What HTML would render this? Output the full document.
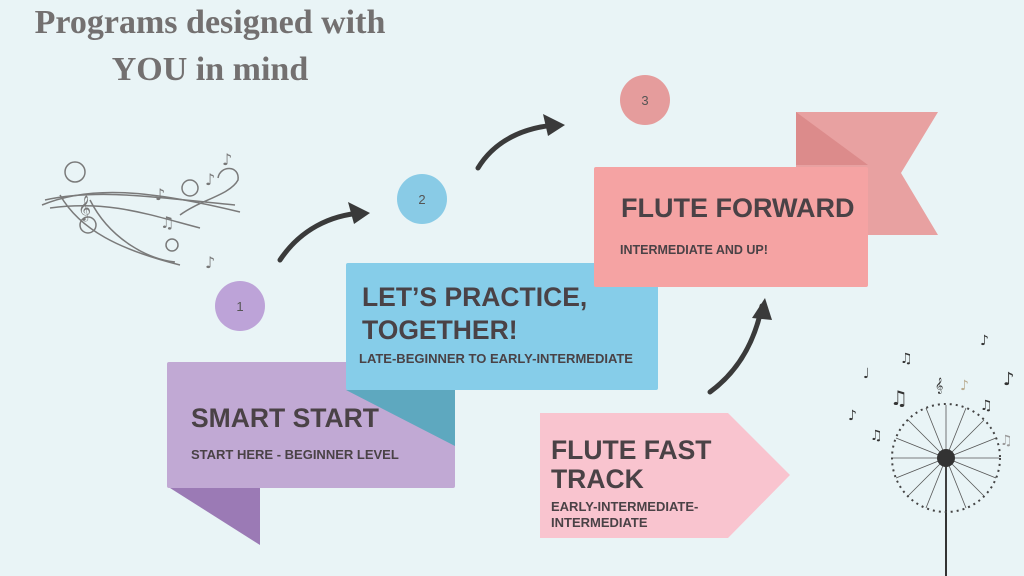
<!DOCTYPE html>
<html><head><meta charset="utf-8"><style>
body{margin:0;width:1024px;height:576px;overflow:hidden;background:#e9f4f6;}
svg{display:block}
.t{font-family:"Liberation Sans",sans-serif;font-weight:bold;fill:#4a4246}
</style></head><body>
<svg width="1024" height="576" viewBox="0 0 1024 576" xmlns="http://www.w3.org/2000/svg">
<rect width="1024" height="576" fill="#e9f4f6"/>
<text x="210" y="33" text-anchor="middle" font-family="Liberation Serif,serif" font-weight="bold" font-size="34" fill="#737070">Programs designed with</text>
<text x="210" y="80" text-anchor="middle" font-family="Liberation Serif,serif" font-weight="bold" font-size="34" fill="#737070">YOU in mind</text>

<!-- left music swirl -->
<g fill="none" stroke="#7a7a7a" stroke-width="1.5">
<path d="M42,205 C90,185 150,190 240,212"/>
<path d="M45,200 C100,188 160,198 235,205"/>
<path d="M50,208 C110,200 150,215 200,228"/>
<path d="M60,195 C80,230 120,250 180,265"/>
<path d="M90,200 C110,240 150,260 175,262"/>
<path d="M180,215 C200,200 230,195 238,180 C240,165 220,165 218,178"/>
<circle cx="75" cy="172" r="10"/><circle cx="190" cy="188" r="8"/><circle cx="172" cy="245" r="6"/><circle cx="88" cy="225" r="8"/>
</g>
<g font-family="DejaVu Sans,sans-serif" fill="#777" font-size="16">
<text x="155" y="200">♪</text><text x="205" y="185">♪</text><text x="222" y="165">♪</text><text x="205" y="268">♪</text><text x="78" y="215" font-size="22">𝄞</text><text x="160" y="228">♫</text>
</g>

<!-- dandelion -->
<g>
<line x1="946" y1="458" x2="946" y2="576" stroke="#333" stroke-width="2"/>
<g stroke="#555" stroke-width="0.8">
<line x1="946" y1="458" x2="946" y2="405"/><line x1="946" y1="458" x2="999" y2="458"/><line x1="946" y1="458" x2="893" y2="458"/><line x1="946" y1="458" x2="946" y2="510"/>
<line x1="946" y1="458" x2="984" y2="420"/><line x1="946" y1="458" x2="908" y2="420"/><line x1="946" y1="458" x2="984" y2="496"/><line x1="946" y1="458" x2="908" y2="496"/>
<line x1="946" y1="458" x2="966" y2="408"/><line x1="946" y1="458" x2="926" y2="408"/><line x1="946" y1="458" x2="996" y2="438"/><line x1="946" y1="458" x2="896" y2="438"/>
<line x1="946" y1="458" x2="996" y2="478"/><line x1="946" y1="458" x2="896" y2="478"/><line x1="946" y1="458" x2="966" y2="508"/><line x1="946" y1="458" x2="926" y2="508"/>
</g>
<circle cx="946" cy="458" r="54" fill="none" stroke="#444" stroke-width="2" stroke-dasharray="2 4"/>
<circle cx="946" cy="458" r="9" fill="#333"/>
<g font-family="DejaVu Sans,sans-serif" fill="#333" font-size="14">
<text x="863" y="378">♩</text><text x="890" y="405" font-size="20">♫</text><text x="935" y="390">𝄞</text><text x="1003" y="385" font-size="18">♪</text><text x="980" y="410">♫</text><text x="848" y="420">♪</text><text x="870" y="440">♫</text><text x="980" y="345">♪</text><text x="900" y="363">♫</text><text x="1000" y="445" fill="#999">♫</text><text x="960" y="390" fill="#b9ab90">♪</text>
</g>
</g>

<!-- arrows -->
<g fill="none" stroke="#3a3a3a" stroke-width="5" stroke-linecap="round">
<path d="M280,260 C300,230 330,215 362,213"/>
<path d="M478,168 C495,140 525,127 557,125"/>
<path d="M710,392 C740,370 755,340 762,306"/>
</g>
<g fill="#3a3a3a">
<polygon points="370,213 348,202 354,224"/>
<polygon points="565,125 543,114 548,136"/>
<polygon points="765,298 752,318 772,320"/>
</g>

<!-- circles -->
<circle cx="240" cy="306" r="25" fill="#bda3d8"/>
<text x="240" y="311" text-anchor="middle" font-family="Liberation Sans,sans-serif" font-size="13" fill="#555">1</text>
<circle cx="422" cy="199" r="25" fill="#89cbe6"/>
<text x="422" y="204" text-anchor="middle" font-family="Liberation Sans,sans-serif" font-size="13" fill="#555">2</text>
<circle cx="645" cy="100" r="25" fill="#e59c9c"/>
<text x="645" y="105" text-anchor="middle" font-family="Liberation Sans,sans-serif" font-size="13" fill="#555">3</text>

<!-- flag behind flute forward -->
<polygon points="796,112 938,112 901,173 938,235 868,235 796,235" fill="#e8a1a1"/>
<polygon points="796,112 868,165 796,165" fill="#dc8b8b"/>

<!-- purple -->
<polygon points="170,488 260,488 260,545" fill="#9b7ab5"/>
<rect x="167" y="362" width="288" height="126" rx="2" fill="#c1a9d4"/>
<!-- blue fold -->
<polygon points="346,390 455,390 455,446" fill="#5ea8bf"/>
<!-- pink fold -->
<polygon points="590,288 658,288 658,333" fill="#dc8585"/>
<!-- blue -->
<rect x="346" y="263" width="312" height="127" rx="2" fill="#86cde9"/>
<!-- flute forward -->
<rect x="594" y="167" width="274" height="120" rx="2" fill="#f5a3a3"/>
<!-- fast track -->
<polygon points="540,413 728,413 790,475 728,538 540,538" fill="#f9c4cf"/>

<text class="t" x="191" y="427" font-size="26.5">SMART START</text>
<text class="t" x="191" y="459" font-size="13">START HERE - BEGINNER LEVEL</text>
<text class="t" x="362" y="306" font-size="26.5">LET’S PRACTICE,</text>
<text class="t" x="362" y="339" font-size="26.5">TOGETHER!</text>
<text class="t" x="359" y="363" font-size="13">LATE-BEGINNER TO EARLY-INTERMEDIATE</text>
<text class="t" x="621" y="217" font-size="27">FLUTE FORWARD</text>
<text class="t" x="620" y="254" font-size="12.5">INTERMEDIATE AND UP!</text>
<text class="t" x="551" y="459" font-size="26.5">FLUTE FAST</text>
<text class="t" x="551" y="488" font-size="26.5">TRACK</text>
<text class="t" x="551" y="511" font-size="13">EARLY-INTERMEDIATE-</text>
<text class="t" x="551" y="527" font-size="13">INTERMEDIATE</text>
</svg>
</body></html>
